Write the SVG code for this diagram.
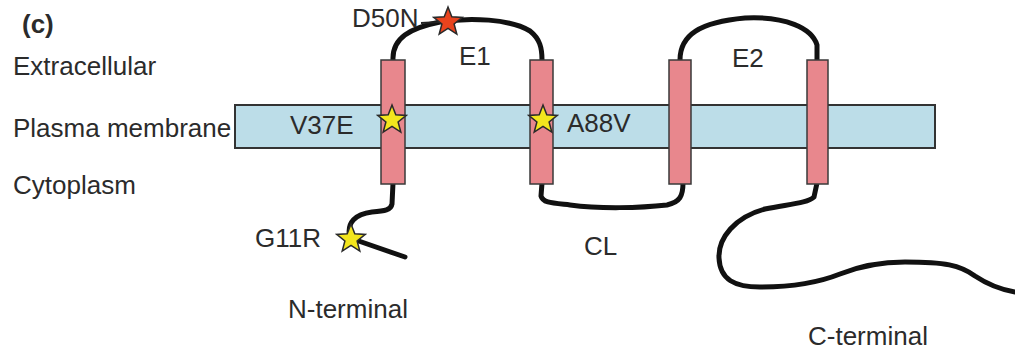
<svg xmlns="http://www.w3.org/2000/svg" width="1015" height="356" viewBox="0 0 1015 356">
<style>
  text { font-family: "Liberation Sans", Arial, sans-serif; font-size: 26px; fill: #2b2b2b; }
  .bold { font-weight: bold; }
  .membrane { fill: #bcdde8; stroke: #333; stroke-width: 2; }
  .helix { fill: #e8878d; stroke: #3a3a3a; stroke-width: 1.5; }
  .chain { fill: none; stroke: #111; stroke-width: 5; stroke-linecap: round; stroke-linejoin: round; }
  .leader { fill: none; stroke: #222; stroke-width: 2; }
  .star-y { fill: #f3e61d; stroke: #2a2a2a; stroke-width: 1.5; }
  .star-r { fill: #e8431d; stroke: #2a2a2a; stroke-width: 1.5; }
</style>
<defs>
  <polygon id="star" points="0,-15 3.8,-5.2 14.3,-4.6 6.1,2 8.8,12.1 0,6.4 -8.8,12.1 -6.1,2 -14.3,-4.6 -3.8,-5.2"/>
</defs>
<rect width="1015" height="356" fill="#ffffff"/>

<g id="region-labels">
  <text class="bold" x="22" y="33">(c)</text>
  <text x="13" y="75">Extracellular</text>
  <text x="13" y="137">Plasma membrane</text>
  <text x="13" y="194">Cytoplasm</text>
</g>

<g id="membrane">
  <rect class="membrane" x="235" y="105" width="700" height="43"/>
</g>

<g id="connectors">
  <!-- E1 loop -->
  <path class="chain" d="M393,60 C392,38 410,28 440,22 C470,17 510,19 530,31 C540,39 542,48 542,60"/>
  <!-- E2 loop -->
  <path class="chain" d="M680,60 C680,35 700,22 745,18 C785,16 812,28 817,45 L817,60"/>
  <!-- CL loop -->
  <path class="chain" d="M542,183 L541,196 C543,203 552,203 570,205 C600,209 640,208 667,205 C680,202 683,196 683,183"/>
  <!-- N-terminal -->
  <path class="chain" d="M393,183 L392,204 C391,210 385,211 372,212 C356,214 346,222 350,238 L405,257"/>
  <!-- C-terminal -->
  <path class="chain" d="M817,183 L814,197 C808,203 790,204 765,209 C735,217 718,238 719,258 C720,280 735,287 760,287 C790,287 815,284 840,274 C860,266 880,262 905,262 C945,262 960,265 975,276 C990,286 1003,290 1015,292"/>
  <!-- D50N leader -->
  <path class="leader" d="M421,23 L440,22"/>
</g>

<g id="helix1"><rect class="helix" x="381" y="60" width="24" height="124"/></g>
<g id="helix2"><rect class="helix" x="530" y="60" width="23" height="124"/></g>
<g id="helix3"><rect class="helix" x="669" y="60" width="22" height="124"/></g>
<g id="helix4"><rect class="helix" x="807" y="60" width="21" height="124"/></g>

<g id="mutations">
  <use href="#star" class="star-r" x="448" y="22"/>
  <use href="#star" class="star-y" x="392" y="120"/>
  <use href="#star" class="star-y" x="543" y="120"/>
  <use href="#star" class="star-y" x="351" y="239"/>
</g>

<g id="labels">
  <text x="352" y="27">D50N</text>
  <text x="459" y="65">E1</text>
  <text x="732" y="67">E2</text>
  <text x="290" y="134">V37E</text>
  <text x="567" y="132">A88V</text>
  <text x="255" y="247">G11R</text>
  <text x="584" y="255">CL</text>
  <text x="288" y="318">N-terminal</text>
  <text x="808" y="345">C-terminal</text>
</g>
</svg>
